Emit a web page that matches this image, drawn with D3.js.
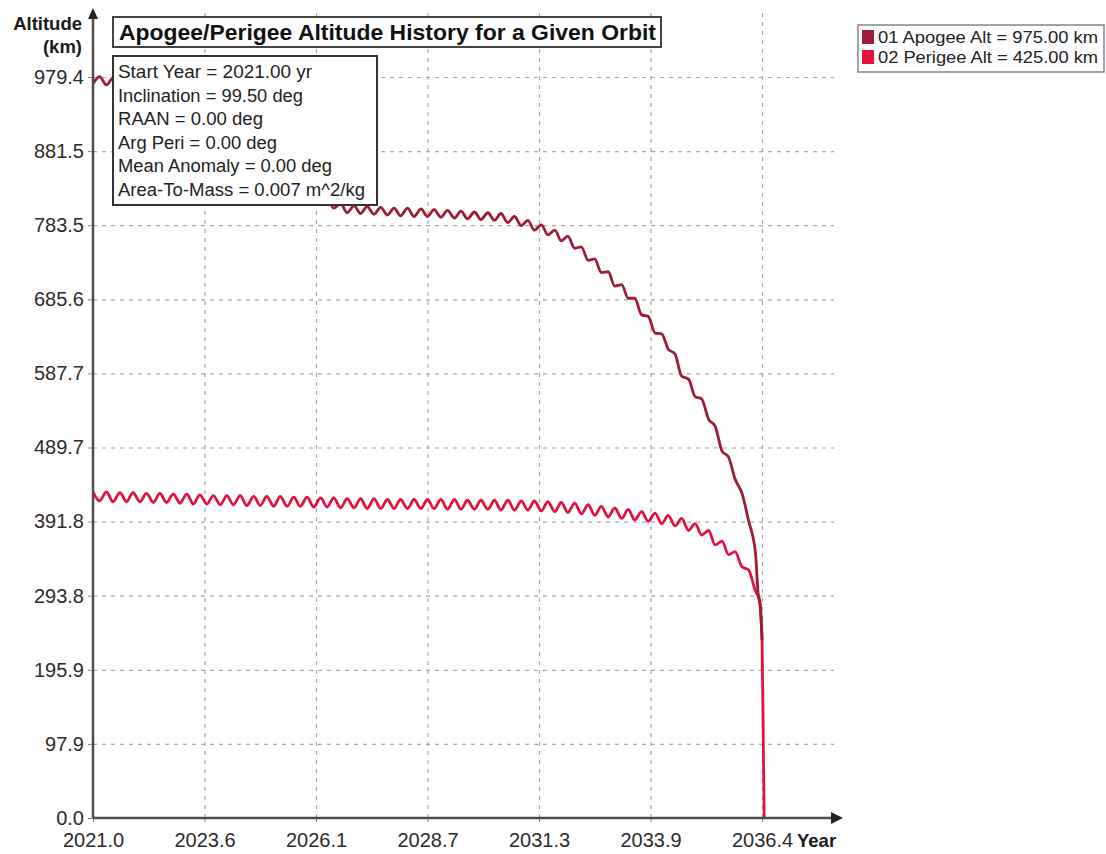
<!DOCTYPE html>
<html>
<head>
<meta charset="utf-8">
<script src="https://cdn.jsdelivr.net/npm/d3@7"></script>
<style>
  body { margin: 0; background: #fff; }
  text { font-family: 'Liberation Sans', Arial, sans-serif; }
</style>
</head>
<body>
<script>
// sample years (peak / trough of the orbit oscillation)
const years = [
  2021.00, 2021.15, 2021.31, 2021.46, 2021.62, 2021.77, 2021.92, 2022.08, 2022.23, 2022.39,
  2022.54, 2022.69, 2022.85, 2023.00, 2023.16, 2023.31, 2023.46, 2023.62, 2023.77, 2023.93,
  2024.08, 2024.23, 2024.39, 2024.54, 2024.70, 2024.85, 2025.00, 2025.16, 2025.31, 2025.47,
  2025.62, 2025.77, 2025.93, 2026.08, 2026.24, 2026.39, 2026.54, 2026.70, 2026.85, 2027.01,
  2027.16, 2027.31, 2027.47, 2027.62, 2027.78, 2027.93, 2028.08, 2028.24, 2028.39, 2028.55,
  2028.70, 2028.85, 2029.01, 2029.16, 2029.32, 2029.47, 2029.62, 2029.78, 2029.93, 2030.09,
  2030.24, 2030.39, 2030.55, 2030.70, 2030.86, 2031.01, 2031.16, 2031.32, 2031.47, 2031.63,
  2031.78, 2031.93, 2032.09, 2032.24, 2032.40, 2032.55, 2032.70, 2032.86, 2033.01, 2033.17,
  2033.32, 2033.47, 2033.63, 2033.78, 2033.94, 2034.09, 2034.24, 2034.40, 2034.55, 2034.71,
  2034.86, 2035.01, 2035.17, 2035.32, 2035.48, 2035.63, 2035.78, 2035.94, 2036.09, 2036.25
]

// apogee altitude (km)
const apogee = [
  970, 980, 969, 978, 967, 976, 964, 972, 960, 968,
  956, 963, 950, 955, 940, 945, 930, 935, 919, 923,
  907, 910, 893, 896, 879, 882, 865, 869, 853, 857,
  841, 845, 829, 833, 817, 821, 806, 812, 800, 809,
  799, 808, 798, 807, 797, 806, 796, 806, 795, 805,
  795, 804, 794, 803, 793, 802, 792, 801, 791, 800,
  790, 799, 787, 795, 783, 790, 777, 784, 771, 777,
  763, 769, 753, 755, 737, 739, 721, 722, 703, 705,
  687, 687, 665, 663, 641, 640, 620, 613, 584, 580,
  557, 554, 527, 518, 485, 477, 448, 429, 393, 350
]

// perigee altitude (km)
const perigee = [
  431, 419, 431, 418, 430, 418, 430, 418, 429, 417,
  429, 417, 428, 416, 428, 415, 427, 415, 426, 414,
  426, 414, 426, 413, 425, 413, 425, 412, 425, 412,
  424, 412, 424, 411, 423, 411, 423, 410, 422, 410,
  422, 409, 422, 409, 421, 409, 421, 409, 421, 409,
  421, 409, 421, 408, 421, 408, 420, 408, 420, 408,
  420, 407, 420, 407, 419, 407, 419, 406, 418, 405,
  417, 404, 416, 402, 414, 400, 412, 398, 410, 396,
  408, 394, 405, 392, 403, 389, 400, 386, 396, 380,
  389, 374, 380, 361, 366, 348, 352, 332, 328, 300
]

// re-entry tail
const apogeeEndYears = [2036.31, 2036.36, 2036.40]
const apogeeEnd = [297, 282, 235]
const perigeeEndYears = [2036.33, 2036.40, 2036.43, 2036.45]
const perigeeEnd = [290, 240, 100, 0]

const xTicks = [2021.0, 2023.567, 2026.133, 2028.7, 2031.267, 2033.833, 2036.4]
const xTickLabels = ['2021.0', '2023.6', '2026.1', '2028.7', '2031.3', '2033.9', '2036.4']
const yTicks = [0.0, 97.9, 195.9, 293.8, 391.8, 489.7, 587.7, 685.6, 783.5, 881.5, 979.4]

const title = 'Apogee/Perigee Altitude History for a Given Orbit'
const infoLines = [
  'Start Year = 2021.00 yr',
  'Inclination = 99.50 deg',
  'RAAN = 0.00 deg',
  'Arg Peri = 0.00 deg',
  'Mean Anomaly = 0.00 deg',
  'Area-To-Mass = 0.007 m^2/kg'
]
const infoWidths = [194, 185, 145, 159, 214, 247]
const legendLabels = ['01 Apogee Alt = 975.00 km', '02 Perigee Alt = 425.00 km']
const legendColors = ['#9e1c36', '#e3123d']

const width = 1106
const height = 854
const plotLeft = 93
const plotBottom = 818
const plotRight = 834
const plotTop = 12

const svg = d3.select('body').append('svg')
  .attr('xmlns', 'http://www.w3.org/2000/svg')
  .attr('width', width)
  .attr('height', height)

const x = d3.scaleLinear().domain([2021.0, 2036.4]).range([plotLeft, 762])
const y = d3.scaleLinear().domain([0, 979.4]).range([plotBottom, 77])

// grid
const gridX = svg.append('g')
  .attr('transform', 'translate(0,' + plotBottom + ')')
  .call(d3.axisBottom(x).tickValues(xTicks.slice(1)).tickSize(-(plotBottom - plotTop)).tickFormat(''))
const gridY = svg.append('g')
  .attr('transform', 'translate(' + plotLeft + ',0)')
  .call(d3.axisLeft(y).tickValues(yTicks.slice(1)).tickSize(-(plotRight - plotLeft)).tickFormat(''))
svg.selectAll('.domain').remove()
gridX.selectAll('line').attr('stroke', '#a8a8a8').attr('stroke-width', 1.2).attr('stroke-dasharray', '4,5')
gridY.selectAll('line').attr('stroke', '#a8a8a8').attr('stroke-width', 1.2).attr('stroke-dasharray', '4,5')

// series
const line = d3.line()
  .x(function (d) { return x(d[0]) })
  .y(function (d) { return y(d[1]) })
  .curve(d3.curveMonotoneX)

const perigeeData = d3.zip(years.concat(perigeeEndYears), perigee.concat(perigeeEnd))
const apogeeData = d3.zip(years.concat(apogeeEndYears), apogee.concat(apogeeEnd))

svg.append('path')
  .datum(perigeeData)
  .attr('d', line)
  .attr('fill', 'none')
  .attr('stroke', legendColors[1])
  .attr('stroke-width', 2.8)
  .attr('stroke-linejoin', 'round')

svg.append('path')
  .datum(apogeeData)
  .attr('d', line)
  .attr('fill', 'none')
  .attr('stroke', legendColors[0])
  .attr('stroke-width', 2.8)
  .attr('stroke-linejoin', 'round')

// axes
const yAxis = svg.append('g')
  .attr('transform', 'translate(' + plotLeft + ',0)')
  .call(d3.axisLeft(y).tickValues(yTicks).tickFormat(d3.format('.1f')).tickSize(5).tickPadding(4))
const xAxis = svg.append('g')
  .attr('transform', 'translate(0,' + plotBottom + ')')
  .call(d3.axisBottom(x).tickValues(xTicks)
    .tickFormat(function (d, i) { return xTickLabels[i] })
    .tickSize(4).tickPadding(11))
yAxis.select('.domain').remove()
xAxis.select('.domain').remove()
yAxis.selectAll('line').attr('stroke', '#888')
xAxis.selectAll('line').attr('stroke', '#888')
yAxis.selectAll('text').attr('font-size', 20).attr('fill', '#2b2b2b').attr('font-family', null)
xAxis.selectAll('text').attr('font-size', 20).attr('fill', '#2b2b2b').attr('font-family', null)

svg.append('line')
  .attr('x1', plotLeft).attr('y1', plotBottom).attr('x2', plotLeft).attr('y2', 18)
  .attr('stroke', '#4d4d4d').attr('stroke-width', 2.5)
svg.append('path')
  .attr('d', 'M' + (plotLeft - 5) + ',19L' + plotLeft + ',8L' + (plotLeft + 5) + ',19Z')
  .attr('fill', '#222')
svg.append('line')
  .attr('x1', plotLeft).attr('y1', plotBottom).attr('x2', 832).attr('y2', plotBottom)
  .attr('stroke', '#4d4d4d').attr('stroke-width', 2.5)
svg.append('path')
  .attr('d', 'M831,' + (plotBottom - 6) + 'L843,' + plotBottom + 'L831,' + (plotBottom + 6) + 'Z')
  .attr('fill', '#222')

// axis titles
svg.append('text').attr('x', 82).attr('y', 30).attr('text-anchor', 'end')
  .attr('font-size', 18.5).attr('font-weight', 'bold').attr('fill', '#1a1a1a').text('Altitude')
svg.append('text').attr('x', 82).attr('y', 53).attr('text-anchor', 'end')
  .attr('font-size', 18.5).attr('font-weight', 'bold').attr('fill', '#1a1a1a').text('(km)')
svg.append('text').attr('x', 797).attr('y', 847)
  .attr('font-size', 18.5).attr('font-weight', 'bold').attr('fill', '#1a1a1a').text('Year')

// title box
svg.append('rect').attr('x', 113).attr('y', 17).attr('width', 548).attr('height', 30)
  .attr('fill', '#fff').attr('stroke', '#444').attr('stroke-width', 2)
svg.append('text').attr('x', 119).attr('y', 40)
  .attr('font-size', 21.5).attr('font-weight', 'bold').attr('fill', '#111')
  .attr('textLength', 537).attr('lengthAdjust', 'spacingAndGlyphs')
  .text(title)

// info box
svg.append('rect').attr('x', 113).attr('y', 56).attr('width', 264).attr('height', 149)
  .attr('fill', '#fff').attr('stroke', '#333').attr('stroke-width', 2)
svg.append('g').selectAll('text')
  .data(infoLines)
  .enter().append('text')
  .attr('x', 118)
  .attr('y', function (d, i) { return 78 + i * 23.5 })
  .attr('font-size', 17.5)
  .attr('fill', '#222')
  .attr('textLength', function (d, i) { return infoWidths[i] })
  .attr('lengthAdjust', 'spacingAndGlyphs')
  .text(function (d) { return d })

// legend
svg.append('rect').attr('x', 858).attr('y', 25).attr('width', 246).attr('height', 47)
  .attr('fill', '#fff').attr('stroke', '#8a8090').attr('stroke-width', 1.5)
const legend = svg.append('g').selectAll('g')
  .data(legendLabels)
  .enter().append('g')
  .attr('transform', function (d, i) { return 'translate(862,' + (30 + i * 20) + ')' })
legend.append('rect').attr('width', 12).attr('height', 14)
  .attr('fill', function (d, i) { return legendColors[i] })
legend.append('text').attr('x', 16).attr('y', 13)
  .attr('font-size', 16).attr('fill', '#222')
  .attr('textLength', 220).attr('lengthAdjust', 'spacingAndGlyphs')
  .text(function (d) { return d })
</script>
</body>
</html>
